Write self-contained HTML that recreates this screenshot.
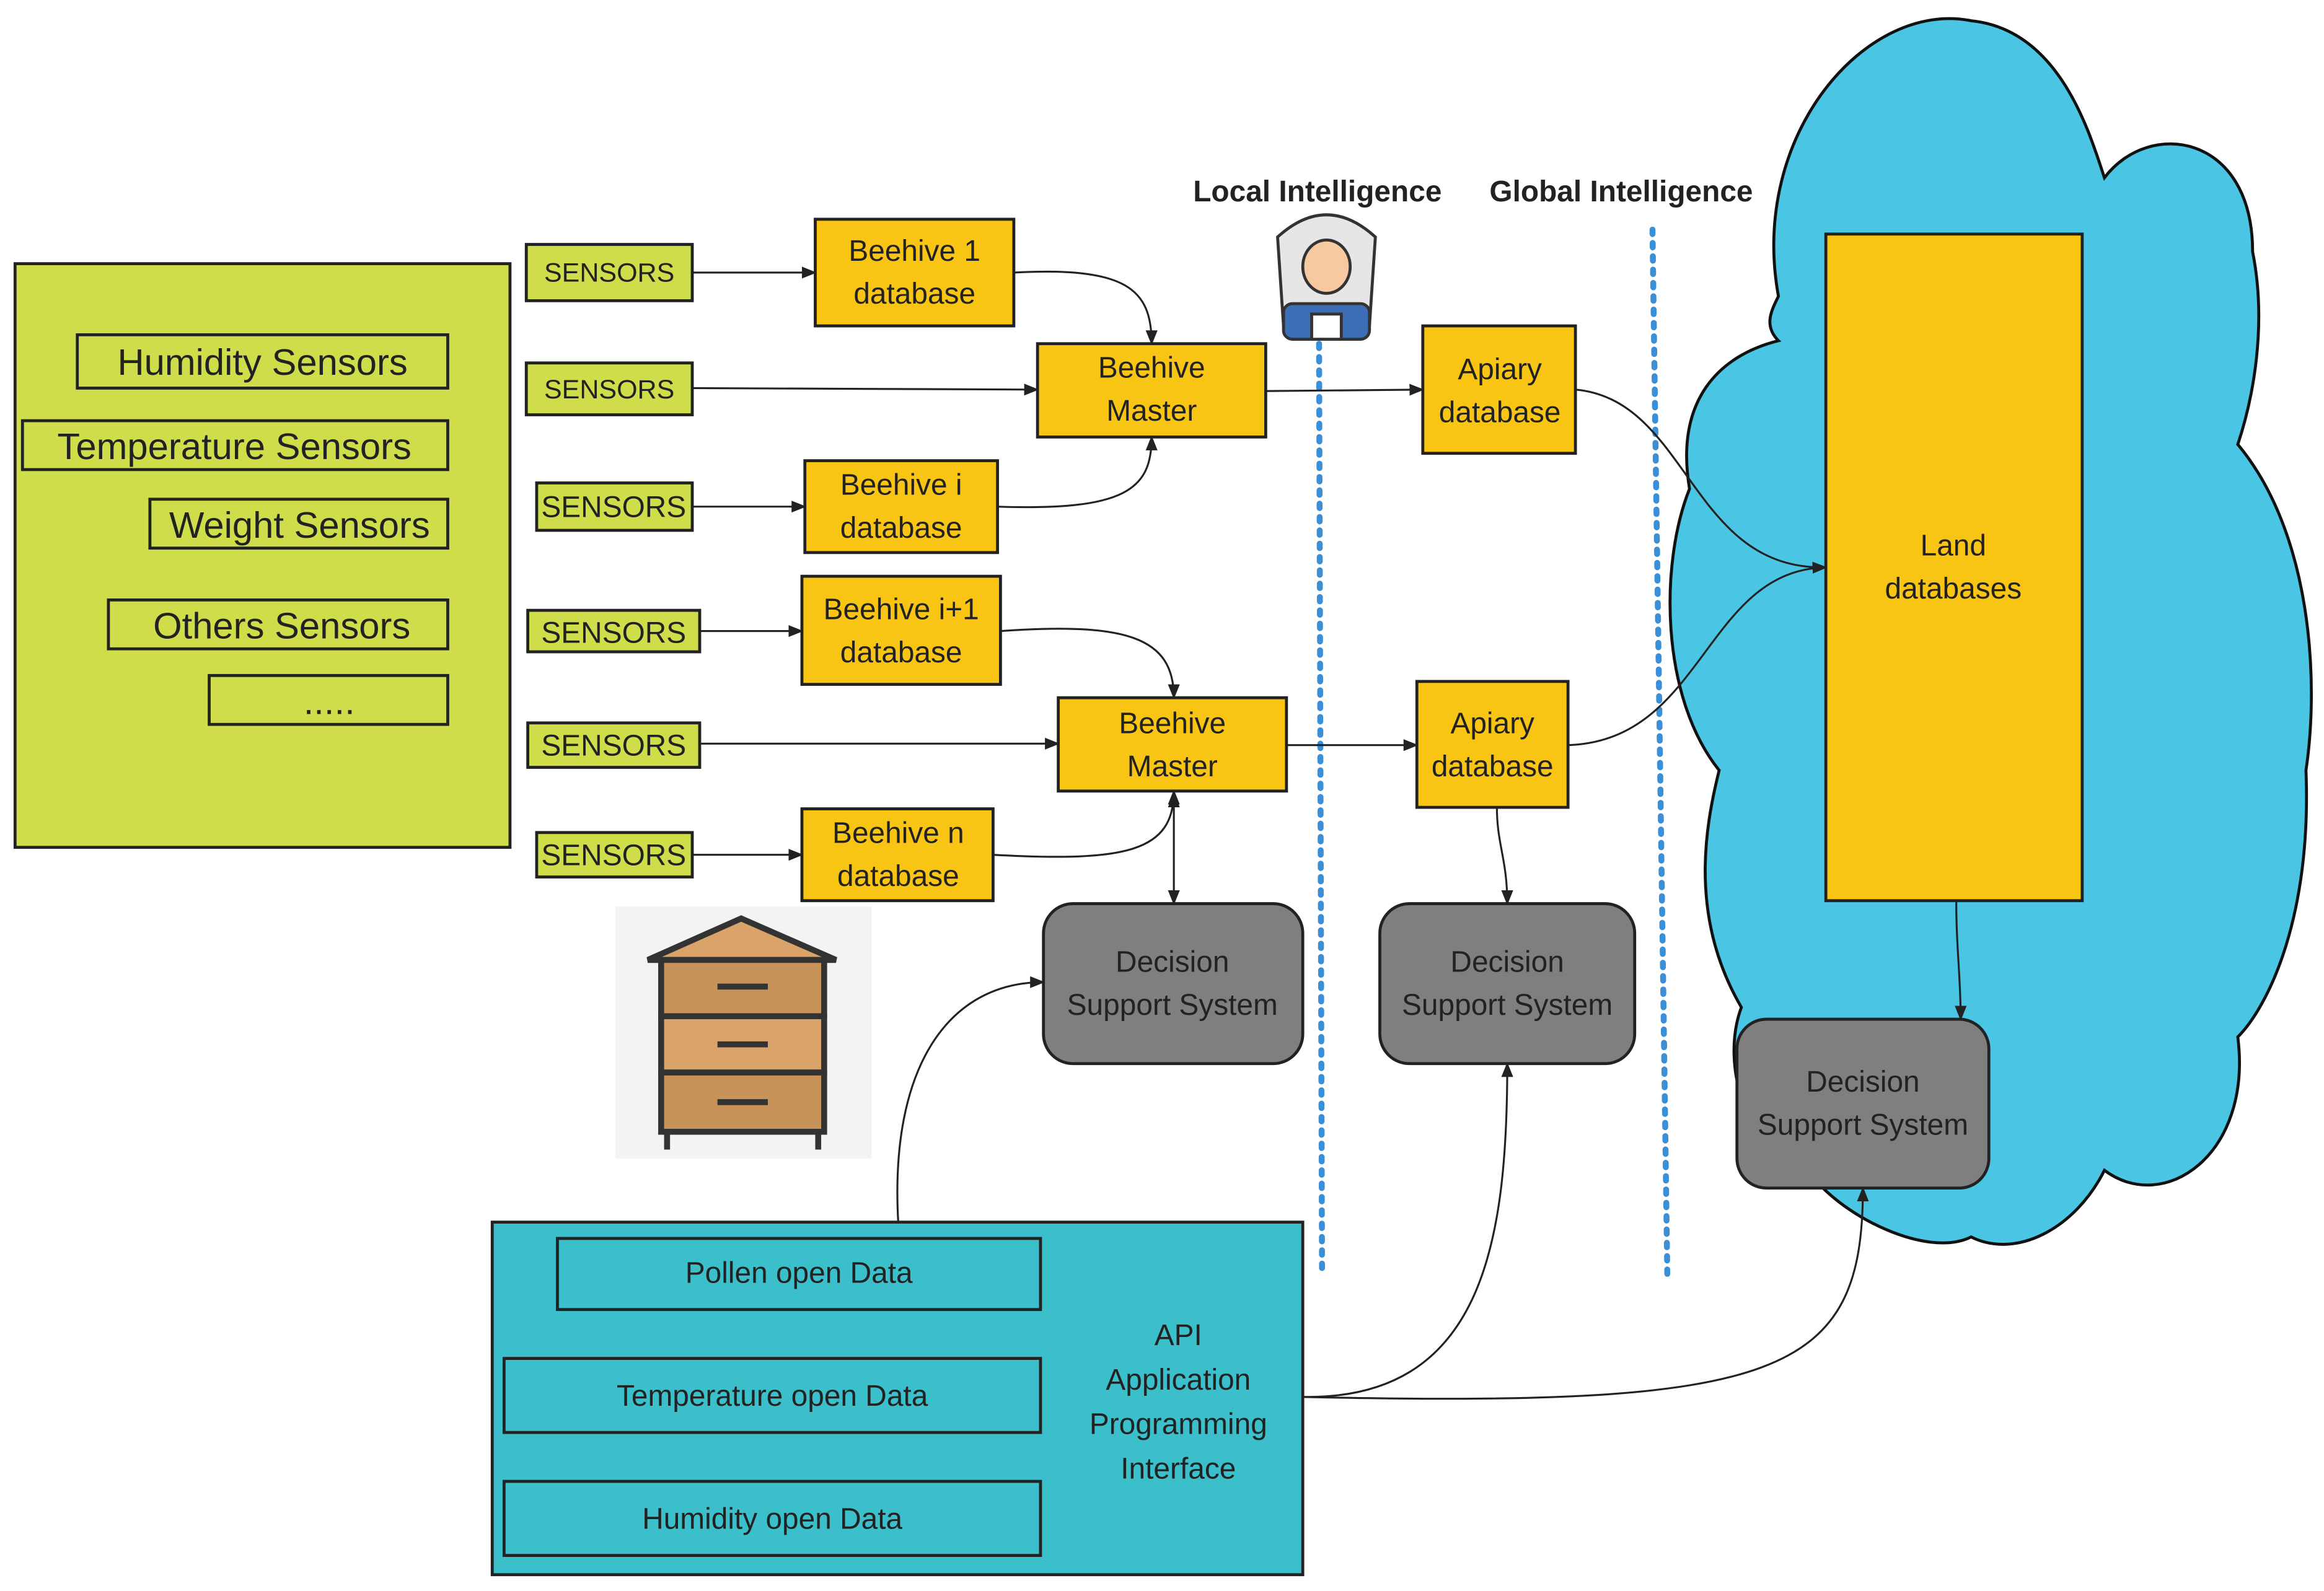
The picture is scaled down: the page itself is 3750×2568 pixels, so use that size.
<!DOCTYPE html>
<html><head><meta charset="utf-8"><style>
html,body{margin:0;padding:0;background:#fff;}
svg{display:block;}
text{font-family:"Liberation Sans",sans-serif;fill:#222;}
</style></head><body>
<svg width="3750" height="2568" viewBox="0 0 1568 1074" xmlns="http://www.w3.org/2000/svg">
<defs>
<marker id="a" markerWidth="10" markerHeight="10" refX="9" refY="5" orient="auto" markerUnits="userSpaceOnUse">
<path d="M0,1 L10,5 L0,9 z" fill="#222"/></marker>
</defs>
<rect width="1568" height="1074" fill="#fff"/>
<!-- cloud -->
<g fill="#4ac5e3" stroke="#111" stroke-width="2">
<path d="M1200,200 C1180,90 1260,0 1330,14 C1390,20 1410,90 1420,120 C1450,80 1520,90 1520,170 C1530,220 1520,270 1510,300 C1560,360 1565,460 1556,520 C1560,620 1530,680 1510,700 C1520,780 1460,820 1420,790 C1400,830 1360,850 1330,835 C1300,850 1240,820 1220,790 C1180,780 1160,720 1175,680 C1140,620 1150,560 1160,520 C1120,470 1120,380 1140,330 C1130,270 1160,240 1200,230 C1190,220 1195,210 1200,200 z"/>
</g>
<!-- green big box -->
<rect x="10" y="178" width="334" height="394" fill="#cfdd4a" stroke="#222" stroke-width="2"/>
<g fill="#cfdd4a" stroke="#222" stroke-width="2">
<rect x="52" y="226" width="250" height="36"/>
<rect x="15" y="284" width="287" height="33"/>
<rect x="101" y="337" width="201" height="33"/>
<rect x="73" y="405" width="229" height="33"/>
<rect x="141" y="456" width="161" height="33"/>
</g>
<g font-size="25" text-anchor="middle">
<text x="177" y="253">Humidity Sensors</text>
<text x="158" y="310">Temperature Sensors</text>
<text x="202" y="363">Weight Sensors</text>
<text x="190" y="431">Others Sensors</text>
<text x="222" y="482">.....</text>
</g>
<!-- sensors -->
<g fill="#cfdd4a" stroke="#222" stroke-width="2">
<rect x="355" y="165" width="112" height="38"/>
<rect x="355" y="245" width="112" height="35"/>
<rect x="362" y="326" width="105" height="32"/>
<rect x="356" y="412" width="116" height="28"/>
<rect x="356" y="488" width="116" height="30"/>
<rect x="362" y="562" width="105" height="30"/>
</g>
<g font-size="18" text-anchor="middle">
<text x="411" y="190">SENSORS</text>
<text x="411" y="269">SENSORS</text>
<text x="414" y="349" font-size="20">SENSORS</text>
<text x="414" y="434" font-size="20">SENSORS</text>
<text x="414" y="510" font-size="20">SENSORS</text>
<text x="414" y="584" font-size="20">SENSORS</text>
</g>
<!-- orange -->
<g fill="#f8c515" stroke="#222" stroke-width="2">
<rect x="550" y="148" width="134" height="72"/>
<rect x="700" y="232" width="154" height="63"/>
<rect x="543" y="311" width="130" height="62"/>
<rect x="541" y="389" width="134" height="73"/>
<rect x="714" y="471" width="154" height="63"/>
<rect x="541" y="546" width="129" height="62"/>
<rect x="960" y="220" width="103" height="86"/>
<rect x="956" y="460" width="102" height="85"/>
<rect x="1232" y="158" width="173" height="450"/>
</g>
<g font-size="20" text-anchor="middle">
<text x="617" y="176">Beehive 1</text><text x="617" y="205">database</text>
<text x="777" y="255">Beehive</text><text x="777" y="284">Master</text>
<text x="608" y="334">Beehive i</text><text x="608" y="363">database</text>
<text x="608" y="418">Beehive i+1</text><text x="608" y="447">database</text>
<text x="791" y="495">Beehive</text><text x="791" y="524">Master</text>
<text x="606" y="569">Beehive n</text><text x="606" y="598">database</text>
<text x="1012" y="256">Apiary</text><text x="1012" y="285">database</text>
<text x="1007" y="495">Apiary</text><text x="1007" y="524">database</text>
<text x="1318" y="375">Land</text><text x="1318" y="404">databases</text>
</g>
<!-- DSS -->
<g fill="#7f7f7f" stroke="#222" stroke-width="2">
<rect x="704" y="610" width="175" height="108" rx="20"/>
<rect x="931" y="610" width="172" height="108" rx="20"/>
<rect x="1172" y="688" width="170" height="114" rx="20"/>
</g>
<g font-size="20" text-anchor="middle">
<text x="791" y="656">Decision</text><text x="791" y="685">Support System</text>
<text x="1017" y="656">Decision</text><text x="1017" y="685">Support System</text>
<text x="1257" y="737">Decision</text><text x="1257" y="766">Support System</text>
</g>
<!-- dotted lines -->
<g stroke="#3a8fd6" stroke-width="4" stroke-dasharray="3,6" stroke-linecap="round">
<line x1="890" y1="232" x2="892" y2="860"/>
<line x1="1115" y1="155" x2="1125" y2="860"/>
</g>
<g font-size="20" font-weight="bold">
<text x="805" y="136">Local Intelligence</text>
<text x="1005" y="136">Global Intelligence</text>
</g>
<!-- beekeeper icon -->
<g stroke="#333" stroke-width="2">
<path d="M862,160 Q895,130 928,160 L924,220 L866,220 z" fill="#e6e6e6"/>
<rect x="866" y="205" width="58" height="24" rx="6" fill="#3c6fb5"/>
<ellipse cx="895" cy="180" rx="16" ry="18" fill="#f6c9a0"/>
<rect x="885" y="212" width="20" height="17" fill="#fff"/>
</g>
<!-- beehive icon -->
<rect x="415" y="612" width="173" height="170" fill="#f3f3f3"/>
<g stroke="#333" stroke-width="4">
<path d="M437,648 L500,620 L564,648 z" fill="#d9a36a"/>
<rect x="446" y="648" width="110" height="38" fill="#c8935a"/>
<rect x="446" y="686" width="110" height="38" fill="#d9a36a"/>
<rect x="446" y="724" width="110" height="40" fill="#c8935a"/>
<line x1="450" y1="764" x2="450" y2="776"/><line x1="552" y1="764" x2="552" y2="776"/>
<line x1="484" y1="666" x2="518" y2="666"/><line x1="484" y1="705" x2="518" y2="705"/><line x1="484" y1="744" x2="518" y2="744"/>
</g>
<!-- teal box -->
<rect x="332" y="825" width="547" height="238" fill="#3bbfca" stroke="#222" stroke-width="2"/>
<g fill="#3bbfca" stroke="#222" stroke-width="2">
<rect x="376" y="836" width="326" height="48"/>
<rect x="340" y="917" width="362" height="50"/>
<rect x="340" y="1000" width="362" height="50"/>
</g>
<g font-size="20" text-anchor="middle">
<text x="539" y="866">Pollen open Data</text>
<text x="521" y="949">Temperature open Data</text>
<text x="521" y="1032">Humidity open Data</text>
<text x="795" y="908">API</text>
<text x="795" y="938">Application</text>
<text x="795" y="968">Programming</text>
<text x="795" y="998">Interface</text>
</g>
<!-- connectors -->
<g fill="none" stroke="#222" stroke-width="1.3" marker-end="url(#a)">
<line x1="467" y1="184" x2="550" y2="184"/>
<path d="M684,184 C760,180 777,195 777,232"/>
<line x1="467" y1="262" x2="700" y2="263"/>
<line x1="467" y1="342" x2="543" y2="342"/>
<path d="M673,342 C760,345 777,330 777,295"/>
<line x1="854" y1="264" x2="960" y2="263"/>
<line x1="472" y1="426" x2="541" y2="426"/>
<path d="M675,426 C760,420 792,430 792,471"/>
<line x1="472" y1="502" x2="714" y2="502"/>
<line x1="467" y1="577" x2="541" y2="577"/>
<path d="M670,577 C760,582 792,575 792,534"/>
<line x1="868" y1="503" x2="956" y2="503"/>
<line x1="792" y1="545" x2="792" y2="610"/>
<path d="M1063,263 C1140,270 1140,385 1232,383"/>
<path d="M1058,503 C1150,500 1150,385 1232,383"/>
<path d="M1010,545 C1010,570 1017,580 1017,610"/>
<path d="M1320,608 C1320,640 1323,660 1323,688"/>
<path d="M606,825 C600,720 640,663 704,663"/>
<path d="M879,943 C1000,945 1017,840 1017,718"/>
<path d="M879,943 C1200,950 1257,930 1257,802"/>
</g>
<line x1="792" y1="545" x2="792" y2="536" stroke="#222" stroke-width="1.3" marker-end="url(#a)"/>
</svg>
</body></html>
